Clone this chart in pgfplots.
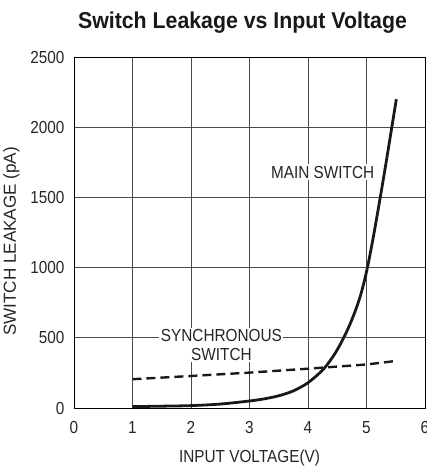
\documentclass[border=0pt]{standalone}
\usepackage{fontspec}
\setmainfont{Liberation Sans}
\newfontfamily\titlefont{Liberation Sans}[FakeStretch=0.93]
\newfontfamily\lblfont{Liberation Sans}[FakeStretch=0.88]
\newfontfamily\ylblfont{Liberation Sans}[FakeStretch=0.98]
\usepackage{pgfplots}
\pgfplotsset{compat=1.18}
\begin{document}
\begin{tikzpicture}
\begin{axis}[
  at={(0,0)}, anchor=south west,
  scale only axis,
  width=351bp, height=351bp,
  xmin=0, xmax=6, ymin=0, ymax=2500,
  xtick={0,1,2,3,4,5,6},
  ytick={0,500,1000,1500,2000,2500},
  major tick length=0pt,
  grid=major,
  major grid style={draw=black!70, line width=0.7pt},
  axis line style={draw=black, line width=1pt},
  /pgf/number format/assume math mode=true,
  /pgf/number format/1000 sep={},
  tick label style={font=\lblfont\fontsize{17.5}{20}\selectfont, text=black!85},
  xticklabel style={yshift=-10bp},
  yticklabel style={xshift=-6bp},
  xlabel={INPUT VOLTAGE(V)},
  ylabel={SWITCH LEAKAGE (pA)},
  label style={text=black!85},
  xlabel style={font=\lblfont\fontsize{17.5}{20}\selectfont, yshift=-9bp},
  ylabel style={font=\ylblfont\fontsize{17.5}{20}\selectfont, yshift=4bp, xshift=-9bp},
  title={Switch Leakage vs Input Voltage},
  title style={font=\titlefont\bfseries\fontsize{23}{27}\selectfont, text=black!90, at={(0.48,1)}, anchor=south, yshift=14bp},
  clip=false,
]
\addplot[black!90, dash pattern=on 9bp off 5bp, line width=2.4pt] coordinates {
  (1,205) (2,228) (3,252) (4,280) (5,310) (5.5,335)
};
\addplot[black!90, line width=2.8pt, smooth, tension=0.5] coordinates {
  (1,10) (1.5,13) (2,17) (2.5,28) (3,50) (3.25,65) (3.5,87) (3.75,122)
  (4,180) (4.25,270) (4.4,350) (4.5,415) (4.6,492) (4.7,580) (4.8,682)
  (4.9,805) (5.0,970) (5.1,1180) (5.2,1415) (5.3,1660) (5.4,1915) (5.51,2200)
};
\node[fill=white, inner sep=1.5pt, font=\lblfont\fontsize{17.5}{20}\selectfont, text=black!85] at (axis cs:4.25,1680) {MAIN SWITCH};
\node[fill=white, inner sep=1.5pt, align=center, font=\lblfont\fontsize{17.5}{20}\selectfont, text=black!85] at (axis cs:2.52,449) {SYNCHRONOUS\\[-1pt]SWITCH};
\end{axis}
\pgfresetboundingbox
\path[use as bounding box] (-74bp,-59bp) rectangle (353bp,408bp);
\end{tikzpicture}
\end{document}
